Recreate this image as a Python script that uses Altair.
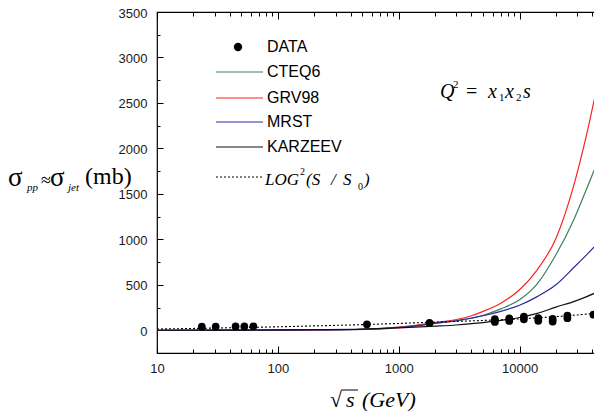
import altair as alt
import pandas as pd

# ---------------- data ----------------
energy_data = [23.5, 30.6, 44.7, 52.8, 62.7, 546, 1800,
               6250, 6250, 8220, 8220, 10860, 10860, 14300, 14300,
               18800, 18800, 24900, 24900, 40900]
sigma_data = [39, 40, 42, 42, 43, 66, 80,
              92, 122, 102, 131, 120, 150, 104, 133,
              96, 125, 133, 162, 172]

curve_energy = [10, 20, 50, 100, 200, 500, 1000, 1500, 2000, 3000, 4000,
                5000, 7000, 10000, 14000, 20000, 28000, 36000, 44000, 50000]
grv98 = [0, 0, 1, 2, 4, 11, 35, 60, 85, 118, 160, 208, 298, 445, 665, 1010, 1585, 2160, 2690, 3030]
cteq6 = [0, 0, 1, 2, 4, 11, 33, 56, 80, 103, 132, 165, 235, 335, 510, 830, 1210, 1560, 1845, 2030]
mrst = [0, 0, 1, 2, 4, 10, 30, 54, 76, 105, 135, 160, 208, 275, 370, 500, 687, 832, 952, 1029]
karzeev = [0, 1, 2, 4, 7, 13, 27, 37, 45, 58, 72, 85, 108, 140, 185, 255, 315, 370, 420, 453]

log2_energy = [10, 20, 50, 100, 200, 500, 1000, 2000, 5000, 10000, 20000, 50000]
log2_sigma = [14, 20, 30, 38, 48, 62, 75, 90, 108, 125, 150, 195]

series_names = ["CTEQ6", "GRV98", "MRST", "KARZEEV"]
series_colors = ["#3f7f60", "#ff2020", "#2a2aa0", "#111111"]

x_major = [10, 100, 1000, 10000]
x_minor = [20, 30, 40, 50, 60, 70, 80, 90,
           200, 300, 400, 500, 600, 700, 800, 900,
           2000, 3000, 4000, 5000, 6000, 7000, 8000, 9000,
           20000, 30000, 40000]
y_major = [0, 500, 1000, 1500, 2000, 2500, 3000, 3500]
y_minor = [-250, 250, 750, 1250, 1750, 2250, 2750, 3250]

# ---------------- tables ----------------
pts = pd.DataFrame({"E": energy_data, "S": sigma_data})
rows = []
for name, vals in zip(series_names, [cteq6, grv98, mrst, karzeev]):
    for e, v in zip(curve_energy, vals):
        rows.append({"E": e, "S": v, "series": name})
curves = pd.DataFrame(rows)
log2 = pd.DataFrame({"E": log2_energy, "S": log2_sigma})
frame_df = pd.DataFrame({"E": [10, 50000], "S": [-250, 3500]})

W, H = 447, 341
xs = alt.Scale(type="log", domain=[10, 50000], nice=False)
ys = alt.Scale(domain=[-250, 3500], nice=False, zero=False)

ax_common = dict(grid=False, domain=False, tickColor="black", tickWidth=1,
                 labelFont="Liberation Sans", labelFontSize=13, labelColor="#1a1a1a",
                 title=None, labelFlush=False, labelOverlap=False)


def axis_layer(xaxis, yaxis):
    return alt.Chart(frame_df).mark_point(opacity=0).encode(
        x=alt.X("E:Q", scale=xs, axis=xaxis),
        y=alt.Y("S:Q", scale=ys, axis=yaxis),
    )


major = axis_layer(
    alt.Axis(orient="bottom", values=x_major, format="d", tickSize=7, offset=-7, labelPadding=9, **ax_common),
    alt.Axis(orient="left", values=y_major, format="d", tickSize=6, offset=-6, labelPadding=10,
             labelOffset=1, **ax_common),
)
minor = axis_layer(
    alt.Axis(orient="bottom", values=x_minor, tickSize=4, offset=-4, labels=False, **ax_common),
    alt.Axis(orient="left", values=y_minor, tickSize=3, offset=-3, labels=False, **ax_common),
)
major2 = axis_layer(
    alt.Axis(orient="top", values=x_major, tickSize=7, offset=-7, labels=False, **ax_common),
    alt.Axis(orient="right", values=y_major, tickSize=6, offset=-6, labels=False, **ax_common),
)
minor2 = axis_layer(
    alt.Axis(orient="top", values=x_minor, tickSize=4, offset=-4, labels=False, **ax_common),
    alt.Axis(orient="right", values=y_minor, tickSize=3, offset=-3, labels=False, **ax_common),
)

lines = alt.Chart(curves).mark_line(strokeWidth=1.2, interpolate="monotone").encode(
    x=alt.X("E:Q", scale=xs, axis=None),
    y=alt.Y("S:Q", scale=ys, axis=None),
    color=alt.Color("series:N", scale=alt.Scale(domain=series_names, range=series_colors), legend=None),
    detail="series:N",
)
logline = alt.Chart(log2).mark_line(strokeWidth=1.1, strokeDash=[2, 2], color="black",
                                    interpolate="monotone").encode(
    x=alt.X("E:Q", scale=xs, axis=None),
    y=alt.Y("S:Q", scale=ys, axis=None),
)
dots = alt.Chart(pts).mark_circle(size=60, color="black", opacity=1).encode(
    x=alt.X("E:Q", scale=xs, axis=None),
    y=alt.Y("S:Q", scale=ys, axis=None),
)

# ---------------- annotations (pixel positions relative to plot area) ----------------
one = pd.DataFrame({"a": [0]})


def txt(t, x, y, size=16, font="Liberation Sans", style="normal", baseline="alphabetic", align="left"):
    return alt.Chart(one).mark_text(text=t, font=font, fontSize=size, fontStyle=style,
                                    baseline=baseline, align=align, color="black").encode(
        x=alt.value(x), y=alt.value(y))


def hline(x1, x2, y, color, dash=None, width=1.2):
    kw = dict(color=color, strokeWidth=width)
    if dash:
        kw["strokeDash"] = dash
    return alt.Chart(one).mark_rule(**kw).encode(x=alt.value(x1), x2=alt.value(x2), y=alt.value(y))


LX = 110
legend_layers = [
    alt.Chart(one).mark_circle(size=70, color="black", opacity=1).encode(x=alt.value(81), y=alt.value(35)),
    txt("DATA", LX, 35, baseline="middle"),
]
for name, col, yy in zip(series_names, series_colors, [60, 86, 110, 135]):
    legend_layers.append(hline(59, 106, yy, col))
    legend_layers.append(txt(name, LX, yy, baseline="middle"))
legend_layers.append(hline(59, 106, 165, "black", dash=[2, 2], width=1))
SER = "Liberation Serif"
legend_layers += [
    txt("LOG", 108, 173, size=17, font=SER, style="italic"),
    txt("2", 143, 163, size=10, font=SER),
    txt("(S", 149, 173, size=17, font=SER, style="italic"),
    txt("/", 174, 173, size=17, font=SER, style="italic"),
    txt("S", 186, 173, size=17, font=SER, style="italic"),
    txt("0", 201, 178, size=10, font=SER),
    txt(")", 207, 173, size=17, font=SER, style="italic"),
]

q_layers = [
    txt("Q", 283, 86, size=20, font=SER, style="italic"),
    txt("2", 296, 76, size=11, font=SER),
    txt("=", 309, 86, size=20, font=SER),
    txt("x", 331, 86, size=20, font=SER, style="italic"),
    txt("1", 342, 89, size=11, font=SER),
    txt("x", 348, 86, size=20, font=SER, style="italic"),
    txt("2", 359, 89, size=11, font=SER),
    txt("s", 366, 86, size=20, font=SER, style="italic"),
]

ytitle_layers = [
    txt("σ", -149, 174, size=27, font=SER),
    txt("pp", -130, 179, size=11, font=SER, style="italic"),
    txt("≈", -116, 174, size=18, font=SER),
    txt("σ", -107, 174, size=27, font=SER),
    txt("jet", -89, 179, size=11, font=SER, style="italic"),
    txt("(mb)", -72, 172, size=24, font=SER),
]

xtitle_layers = [
    txt("√", 173, 395, size=22, font=SER),
    hline(185, 201, 378, "black", width=1),
    txt("s", 189, 395, size=22, font=SER, style="italic"),
    txt("(GeV)", 205, 395, size=22, font=SER, style="italic"),
]

chart = alt.layer(
    major, minor, major2, minor2, lines, logline, dots,
    *legend_layers, *q_layers, *ytitle_layers, *xtitle_layers,
).resolve_axis(x="independent", y="independent").properties(
    width=W, height=H,
    autosize=alt.AutoSizeParams(type="none"),
    padding={"left": 149, "top": 4, "right": -10, "bottom": 58},
).configure_view(stroke="black", strokeWidth=1.2)

chart.save("out.html", embed_options={"renderer": "svg", "actions": False})
